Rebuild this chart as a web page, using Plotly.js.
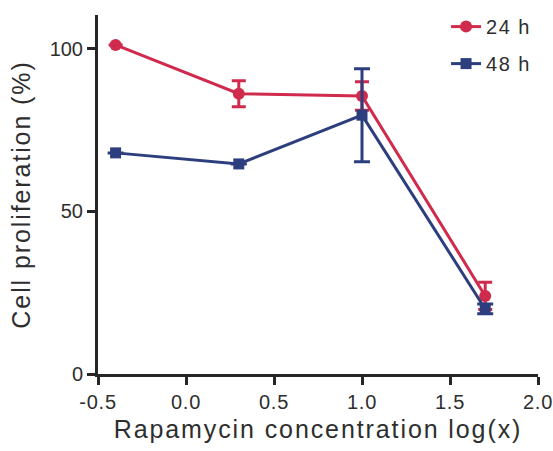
<!DOCTYPE html>
<html>
<head>
<meta charset="utf-8">
<script src="https://cdn.plot.ly/plotly-3.0.1.min.js"></script>
<style>
  html, body { margin: 0; padding: 0; background: #ffffff; }
  #chart { width: 553px; height: 451px; }
  .xtitle, .ytitle { letter-spacing: 1.9px; }
  .xtick text { letter-spacing: 0.8px; }
  .legendtext { letter-spacing: 1.5px; }
</style>
</head>
<body>
<div id="chart"></div>
<script>
// Data
var xValues = [-0.4, 0.3, 1.0, 1.7];          // log10 of rapamycin concentration
var seriesNames = ['24 h', '48 h'];
var values24 = [101.2, 86.2, 85.5, 24.0];
var errors24 = [0, 4.0, 4.4, 4.2];
var values48 = [68.0, 64.6, 79.6, 20.0];
var errors48 = [0, 0, 14.3, 1.5];
var xTickVals = [-0.5, 0.0, 0.5, 1.0, 1.5, 2.0];
var xTickText = ['-0.5', '0.0', '0.5', '1.0', '1.5', '2.0'];
var yTickVals = [0, 50, 100];
var yTickText = ['0', '50', '100'];

var red = '#d02a4c';
var blue = '#2c3e7e';
var axisColor = '#262626';
var textColor = '#2e2e2e';
var fontFam = 'Arial, "Liberation Sans", Helvetica, sans-serif';

var traces = [
  {
    x: xValues, y: values24, name: seriesNames[0], type: 'scatter', mode: 'lines+markers',
    legendgroup: 'a',
    line: {color: red, width: 3},
    marker: {color: red, symbol: 'circle', size: 12},
    error_y: {type: 'data', array: errors24, visible: true, color: red, thickness: 3, width: 7}
  },
  {
    x: xValues, y: values48, name: seriesNames[1], type: 'scatter', mode: 'lines+markers',
    legendgroup: 'b',
    line: {color: blue, width: 3},
    marker: {color: blue, symbol: 'square', size: 11},
    error_y: {type: 'data', array: errors48, visible: true, color: blue, thickness: 3, width: 8}
  }
];

var layout = {
  width: 553, height: 451,
  margin: {l: 98, r: 15, t: 15, b: 77, pad: 0, autoexpand: false},
  paper_bgcolor: '#ffffff', plot_bgcolor: '#ffffff',
  font: {family: fontFam, color: textColor},
  showlegend: true,
  legend: {
    x: 0.791, y: 1.022, xanchor: 'left', yanchor: 'top',
    bgcolor: 'rgba(0,0,0,0)', borderwidth: 0,
    font: {size: 20, family: fontFam, color: textColor},
    tracegroupgap: 8, traceorder: 'grouped'
  },
  xaxis: {
    range: [-0.5, 2.0], tickvals: xTickVals, ticktext: xTickText,
    showgrid: false, zeroline: false, showline: true,
    linecolor: axisColor, linewidth: 3,
    ticks: 'outside', ticklen: 8, tickwidth: 3, tickcolor: axisColor,
    ticklabeloverflow: 'allow',
    tickfont: {size: 20, family: fontFam, color: textColor},
    title: {text: 'Rapamycin concentration log(x)', font: {size: 25, family: fontFam, color: textColor}, standoff: 9}
  },
  yaxis: {
    range: [0, 110.4], tickvals: yTickVals, ticktext: yTickText,
    showgrid: false, zeroline: false, showline: true,
    linecolor: axisColor, linewidth: 3,
    ticks: 'outside', ticklen: 8, tickwidth: 3, tickcolor: axisColor,
    ticklabeloverflow: 'allow',
    tickfont: {size: 20, family: fontFam, color: textColor},
    title: {text: 'Cell proliferation (%)', font: {size: 25, family: fontFam, color: textColor}, standoff: 12}
  }
};

Plotly.newPlot('chart', traces, layout, {displayModeBar: false, staticPlot: true});
</script>
</body>
</html>
